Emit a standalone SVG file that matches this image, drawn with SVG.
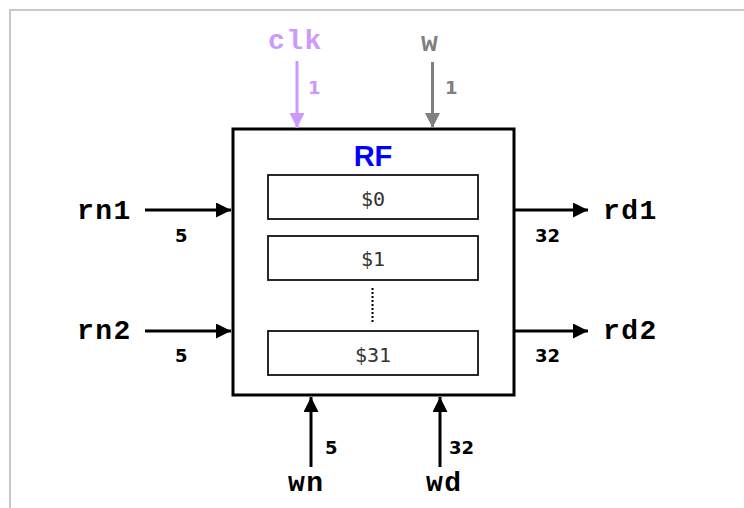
<svg xmlns="http://www.w3.org/2000/svg" width="744" height="508" viewBox="0 0 744 508">
<defs>
<style>
.sig{font-family:"Liberation Mono","Courier New",monospace;font-weight:bold;font-size:28px;letter-spacing:1.5px;fill:#000}
.w{font-family:"DejaVu Sans","Liberation Sans",sans-serif;font-weight:bold;font-size:18px;fill:#000}
.reg{fill:#fff;stroke:#111;stroke-width:1.8}
.regt{font-family:"DejaVu Sans Mono","Liberation Mono",monospace;font-size:20px;fill:#333;text-anchor:middle}
.ln{stroke:#000;stroke-width:3;fill:none}
</style>
<marker id="ah" markerWidth="5" markerHeight="5" refX="5" refY="2.5" orient="auto" markerUnits="strokeWidth"><path d="M0,0 L5,2.5 L0,5 Z" fill="#000"/></marker>
<marker id="ahp" markerWidth="5" markerHeight="5" refX="5" refY="2.5" orient="auto" markerUnits="strokeWidth"><path d="M0,0 L5,2.5 L0,5 Z" fill="#cc99ff"/></marker>
<marker id="ahg" markerWidth="5" markerHeight="5" refX="5" refY="2.5" orient="auto" markerUnits="strokeWidth"><path d="M0,0 L5,2.5 L0,5 Z" fill="#808080"/></marker>
</defs>
<rect x="0" y="0" width="744" height="508" fill="#fff"/>
<path d="M10,520 V10 H760" fill="none" stroke="#c8c8c8" stroke-width="2"/>
<g id="rf">
<rect x="233" y="129" width="281" height="266" fill="#fff" stroke="#000" stroke-width="3"/>
<text x="373" y="166" text-anchor="middle" font-family="Liberation Sans,Arial,sans-serif" font-weight="bold" font-size="29" fill="#0000ff">RF</text>
</g>
<g id="r0"><rect class="reg" x="268" y="175" width="210" height="44"/><text class="regt" x="373" y="206">$0</text></g>
<g id="r1"><rect class="reg" x="268" y="236" width="210" height="44"/><text class="regt" x="373" y="266">$1</text></g>
<g id="dots"><line x1="372.5" y1="288" x2="372.5" y2="322" stroke="#000" stroke-width="2" stroke-dasharray="2,2"/></g>
<g id="r31"><rect class="reg" x="268" y="331" width="210" height="44"/><text class="regt" x="373" y="362">$31</text></g>
<g id="connectors">
<line class="ln" x1="145" y1="210" x2="231" y2="210" marker-end="url(#ah)"/>
<line class="ln" x1="145" y1="331" x2="231" y2="331" marker-end="url(#ah)"/>
<line class="ln" x1="514" y1="210" x2="588" y2="210" marker-end="url(#ah)"/>
<line class="ln" x1="514" y1="331" x2="588" y2="331" marker-end="url(#ah)"/>
<line class="ln" x1="297" y1="61" x2="297" y2="128" style="stroke:#cc99ff" marker-end="url(#ahp)"/>
<line class="ln" x1="432.5" y1="62" x2="432.5" y2="128" style="stroke:#808080" marker-end="url(#ahg)"/>
<line class="ln" x1="311" y1="467" x2="311" y2="397" marker-end="url(#ah)"/>
<line class="ln" x1="440" y1="467" x2="440" y2="397" marker-end="url(#ah)"/>
</g>
<g id="rn1"><text class="sig" x="77" y="219">rn1</text><text class="w" x="175" y="242">5</text></g>
<g id="rn2"><text class="sig" x="77" y="339">rn2</text><text class="w" x="175" y="362">5</text></g>
<g id="rd1"><text class="sig" x="603" y="219">rd1</text><text class="w" x="535" y="242">32</text></g>
<g id="rd2"><text class="sig" x="603" y="339">rd2</text><text class="w" x="535" y="362">32</text></g>
<g id="clk"><text class="sig" x="268" y="49" style="fill:#cc99ff">clk</text><text class="w" x="308" y="94" style="fill:#cc99ff">1</text></g>
<g id="wsig"><text class="sig" x="421" y="51" style="fill:#808080">w</text><text class="w" x="445" y="94" style="fill:#808080">1</text></g>
<g id="wn"><text class="sig" x="288" y="491">wn</text><text class="w" x="325" y="454">5</text></g>
<g id="wd"><text class="sig" x="426" y="491">wd</text><text class="w" x="449" y="454">32</text></g>
</svg>
